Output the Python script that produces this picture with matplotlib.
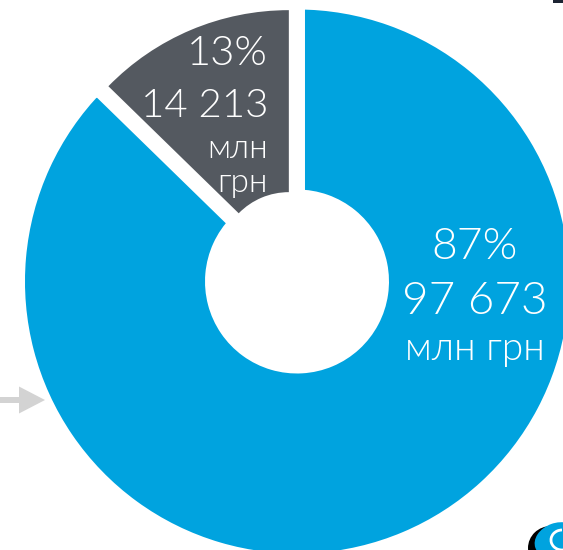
import numpy as np
import matplotlib.pyplot as plt
from matplotlib.patches import FancyArrow, Rectangle, Ellipse, Arc

# Data: budget split (млн грн)
labels = ['blue', 'gray']
values = [97673, 14213]
colors = ['#00A3DF', '#545960']
unit = 'млн грн'

total = sum(values)
pcts = [v / total * 100 for v in values]
nums = [f"{v:,}".replace(",", " ") for v in values]

plt.rcParams['font.family'] = ['Lato', 'DejaVu Sans']

fig = plt.figure(figsize=(5.63, 5.50), dpi=100)
ax = fig.add_axes([0, 0, 1, 1])

# work in pixel units so the ring can be cropped like the original
cx, cy = 297, 268.5
R = 280
wedges, _ = ax.pie(values, colors=colors, startangle=90, counterclock=False,
                   radius=R, center=(cx, cy),
                   wedgeprops=dict(width=196, edgecolor='white', linewidth=11.5))

# the small slice is pulled out along its bisector and drawn a bit smaller
g = wedges[1]
shift = 21
mid = np.deg2rad((g.theta1 + g.theta2) / 2)
g.set_center((cx + shift * np.cos(mid), cy + shift * np.sin(mid)))
g.set_radius(252)
g.set_width(182)
g.set_linewidth(0)

txt = dict(color='white', fontweight=300, va='baseline')

# labels for the big slice
ax.text(475, 291, f"{pcts[0]:.0f}%", fontsize=32, ha='center', **txt)
ax.text(475, 236, nums[0], fontsize=33, ha='center', **txt)
ax.text(475, 190, unit, fontsize=28, ha='center', **txt)

# labels for the small slice (right aligned)
ax.text(268, 485, f"{pcts[1]:.0f}%", fontsize=30, ha='right', **txt)
ax.text(268, 433, nums[1], fontsize=29, ha='right', **txt)
ax.text(268, 392, unit.split()[0], fontsize=24, ha='right', **txt)
ax.text(268, 358, unit.split()[1], fontsize=24, ha='right', **txt)

# bits of the surrounding slide
ax.add_patch(FancyArrow(0, 150, 45, 0, width=6, head_width=27, head_length=26,
                        length_includes_head=True, color='#d3d3d3', lw=0))
ax.add_patch(Rectangle((553, 547), 10, 3, color='#1c2433', lw=0))
ax.add_patch(Ellipse((551, 2), 46, 44, color='black', lw=0))
ax.add_patch(Ellipse((557, 10), 46, 34, angle=20, color='#00A3DF', lw=0))
ax.add_patch(Arc((562, 10), 22, 20, theta1=90, theta2=300, color='white', lw=2))

ax.set_aspect('equal', adjustable='box')
ax.set_xlim(0, 563)
ax.set_ylim(0, 550)
ax.axis('off')

fig.savefig('out.png', dpi=100)
